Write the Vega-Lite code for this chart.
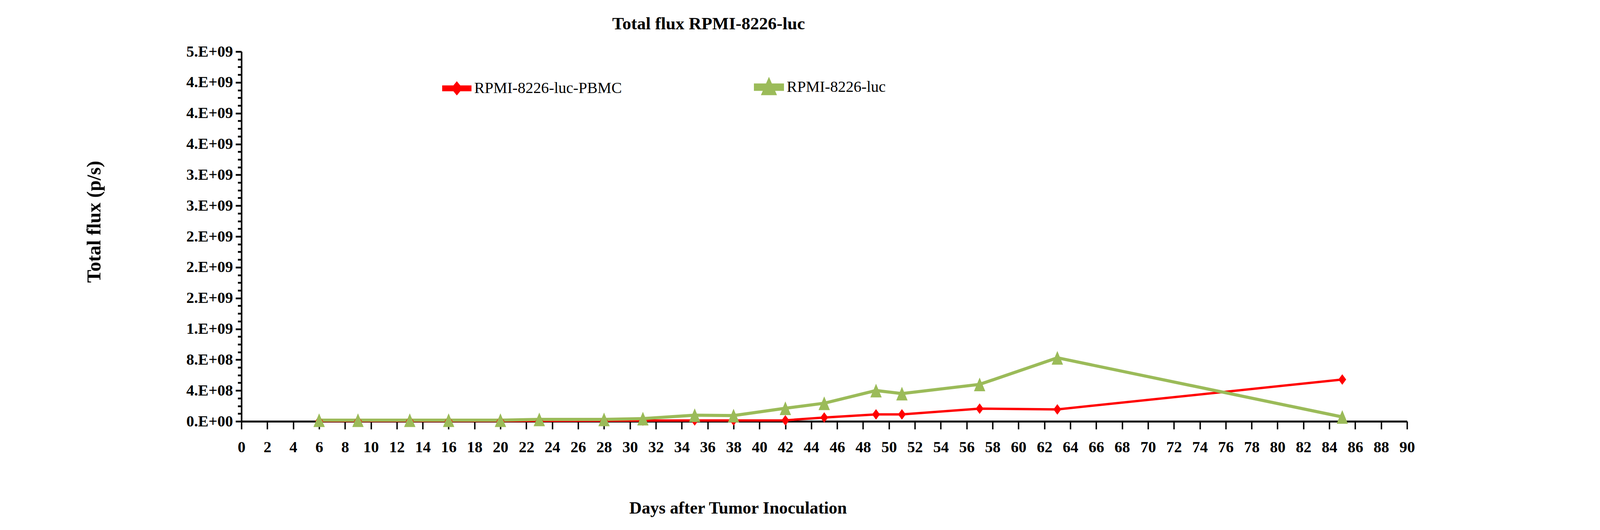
{
  "$schema": "https://vega.github.io/schema/vega-lite/v6.json",
  "autosize": "none",
  "width": 2984,
  "height": 946,
  "padding": {"left": 618, "top": 132, "right": 488, "bottom": 278},
  "background": "white",
  "title": {
    "text": "Total flux RPMI-8226-luc",
    "font": "Liberation Serif",
    "fontSize": 45,
    "fontWeight": "bold",
    "color": "black",
    "anchor": "middle",
    "frame": "group",
    "dx": -296,
    "offset": -8,
    "baseline": "alphabetic"
  },
  "data": {
    "values": [
      {"day": 6, "series": "RPMI-8226-luc-PBMC", "flux": 5000000},
      {"day": 9, "series": "RPMI-8226-luc-PBMC", "flux": 5000000},
      {"day": 13, "series": "RPMI-8226-luc-PBMC", "flux": 5000000},
      {"day": 16, "series": "RPMI-8226-luc-PBMC", "flux": 5000000},
      {"day": 20, "series": "RPMI-8226-luc-PBMC", "flux": 5000000},
      {"day": 23, "series": "RPMI-8226-luc-PBMC", "flux": 6000000},
      {"day": 28, "series": "RPMI-8226-luc-PBMC", "flux": 8000000},
      {"day": 31, "series": "RPMI-8226-luc-PBMC", "flux": 10000000},
      {"day": 35, "series": "RPMI-8226-luc-PBMC", "flux": 12000000},
      {"day": 38, "series": "RPMI-8226-luc-PBMC", "flux": 12000000},
      {"day": 42, "series": "RPMI-8226-luc-PBMC", "flux": 13000000},
      {"day": 45, "series": "RPMI-8226-luc-PBMC", "flux": 50000000},
      {"day": 49, "series": "RPMI-8226-luc-PBMC", "flux": 90000000},
      {"day": 51, "series": "RPMI-8226-luc-PBMC", "flux": 90000000},
      {"day": 57, "series": "RPMI-8226-luc-PBMC", "flux": 165000000},
      {"day": 63, "series": "RPMI-8226-luc-PBMC", "flux": 155000000},
      {"day": 85, "series": "RPMI-8226-luc-PBMC", "flux": 543000000},
      {"day": 6, "series": "RPMI-8226-luc", "flux": 15000000},
      {"day": 9, "series": "RPMI-8226-luc", "flux": 15000000},
      {"day": 13, "series": "RPMI-8226-luc", "flux": 15000000},
      {"day": 16, "series": "RPMI-8226-luc", "flux": 15000000},
      {"day": 20, "series": "RPMI-8226-luc", "flux": 15000000},
      {"day": 23, "series": "RPMI-8226-luc", "flux": 25000000},
      {"day": 28, "series": "RPMI-8226-luc", "flux": 25000000},
      {"day": 31, "series": "RPMI-8226-luc", "flux": 35000000},
      {"day": 35, "series": "RPMI-8226-luc", "flux": 80000000},
      {"day": 38, "series": "RPMI-8226-luc", "flux": 75000000},
      {"day": 42, "series": "RPMI-8226-luc", "flux": 170000000},
      {"day": 45, "series": "RPMI-8226-luc", "flux": 235000000},
      {"day": 49, "series": "RPMI-8226-luc", "flux": 400000000},
      {"day": 51, "series": "RPMI-8226-luc", "flux": 360000000},
      {"day": 57, "series": "RPMI-8226-luc", "flux": 480000000},
      {"day": 63, "series": "RPMI-8226-luc", "flux": 825000000},
      {"day": 85, "series": "RPMI-8226-luc", "flux": 57000000}
    ]
  },
  "encoding": {
    "x": {
      "field": "day",
      "type": "quantitative",
      "scale": {"domain": [0, 90], "nice": false, "zero": false},
      "axis": {
        "values": [0, 2, 4, 6, 8, 10, 12, 14, 16, 18, 20, 22, 24, 26, 28, 30, 32, 34, 36, 38, 40, 42, 44, 46, 48, 50, 52, 54, 56, 58, 60, 62, 64, 66, 68, 70, 72, 74, 76, 78, 80, 82, 84, 86, 88, 90],
        "grid": false,
        "labelFlush": false,
        "labelOverlap": false,
        "labelFont": "Liberation Serif",
        "labelFontWeight": "bold",
        "labelFontSize": 40,
        "labelColor": "black",
        "labelPadding": 26,
        "tickSize": 20,
        "tickWidth": 3.6,
        "tickColor": "black",
        "domainColor": "black",
        "domainWidth": 5,
        "title": "Days after Tumor Inoculation",
        "titleFont": "Liberation Serif",
        "titleFontWeight": "bold",
        "titleFontSize": 44,
        "titleColor": "black",
        "titleX": 1271,
        "titleY": 235,
        "titleBaseline": "alphabetic"
      }
    },
    "color": {
      "field": "series",
      "type": "nominal",
      "scale": {"domain": ["RPMI-8226-luc-PBMC", "RPMI-8226-luc"], "range": ["#FF0000", "#9BBB59"]},
      "legend": {
        "title": null,
        "orient": "none",
        "legendX": 514,
        "legendY": 52,
        "direction": "horizontal",
        "padding": 0,
        "symbolSize": 4761,
        "labelFont": "Liberation Serif",
        "labelFontSize": 40,
        "labelColor": "black",
        "labelOffset": 7,
        "labelLimit": 1000,
        "columnPadding": 326
      }
    }
  },
  "layer": [
    {
      "mark": {"type": "line"},
      "encoding": {
        "y": {
          "field": "flux",
          "type": "quantitative",
          "scale": {"domain": [0, 4800000000], "nice": false},
          "axis": {
            "values": [0, 400000000, 800000000, 1200000000, 1600000000, 2000000000, 2400000000, 2800000000, 3200000000, 3600000000, 4000000000, 4400000000, 4800000000],
            "labelExpr": "datum.value == 0 ? '0.E+00' : datum.value < 1000000000 ? format(datum.value / 100000000, '.0f') + '.E+08' : format(datum.value / 1000000000, '.0f') + '.E+09'",
            "grid": false,
            "orient": "left",
            "labelFont": "Liberation Serif",
            "labelFontWeight": "bold",
            "labelFontSize": 40,
            "labelColor": "black",
            "labelPadding": 7,
            "labelOverlap": false,
            "tickSize": 15,
            "tickWidth": 4.5,
            "tickColor": "black",
            "domainColor": "black",
            "domainWidth": 4,
            "title": "Total flux  (p/s)",
            "titleFont": "Liberation Serif",
            "titleFontWeight": "bold",
            "titleFontSize": 50,
            "titleColor": "black",
            "titleAngle": -90,
            "titleX": -362,
            "titleY": 435,
            "titleBaseline": "alphabetic"
          }
        },
        "strokeWidth": {
          "field": "series",
          "type": "nominal",
          "scale": {"domain": ["RPMI-8226-luc-PBMC", "RPMI-8226-luc"], "range": [6, 8]},
          "legend": null
        }
      }
    },
    {
      "transform": [{"filter": "datum.series === 'RPMI-8226-luc-PBMC'"}],
      "mark": {"type": "point", "filled": true, "size": 1225, "opacity": 1, "shape": "M0,-0.77L0.57,0L0,0.77L-0.57,0Z"},
      "encoding": {
        "y": {
          "field": "flux",
          "type": "quantitative",
          "axis": {
            "values": [100000000, 200000000, 300000000, 500000000, 600000000, 700000000, 900000000, 1000000000, 1100000000, 1300000000, 1400000000, 1500000000, 1700000000, 1800000000, 1900000000, 2100000000, 2200000000, 2300000000, 2500000000, 2600000000, 2700000000, 2900000000, 3000000000, 3100000000, 3300000000, 3400000000, 3500000000, 3700000000, 3800000000, 3900000000, 4100000000, 4200000000, 4300000000, 4500000000, 4600000000, 4700000000],
            "orient": "left",
            "labels": false,
            "domain": false,
            "grid": false,
            "title": null,
            "tickSize": 9.5,
            "tickWidth": 4.5,
            "tickColor": "black"
          }
        }
      }
    },
    {
      "transform": [{"filter": "datum.series === 'RPMI-8226-luc'"}],
      "mark": {"type": "point", "filled": true, "size": 1225, "opacity": 1, "shape": "M0,-1L0.83,1L-0.83,1Z"},
      "encoding": {
        "y": {"field": "flux", "type": "quantitative", "axis": null}
      }
    },
    {
      "transform": [{"filter": "datum.day < 0"}],
      "mark": {"type": "point", "filled": true, "opacity": 1},
      "encoding": {
        "y": {"field": "flux", "type": "quantitative", "axis": null},
        "shape": {
          "field": "series",
          "type": "nominal",
          "scale": {"domain": ["RPMI-8226-luc-PBMC", "RPMI-8226-luc"], "range": ["M-1,-0.13L1,-0.13L1,0.13L-1,0.13Z M0,-0.39L0.32,0L0,0.39L-0.32,0Z", "M-1,-0.16L1,-0.16L1,0.16L-1,0.16Z M0,-0.48L0.42,0.48L-0.42,0.48Z"]},
          "legend": null
        }
      }
    }
  ],
  "resolve": {"axis": {"y": "independent"}},
  "config": {
    "view": {"stroke": null}
  }
}
